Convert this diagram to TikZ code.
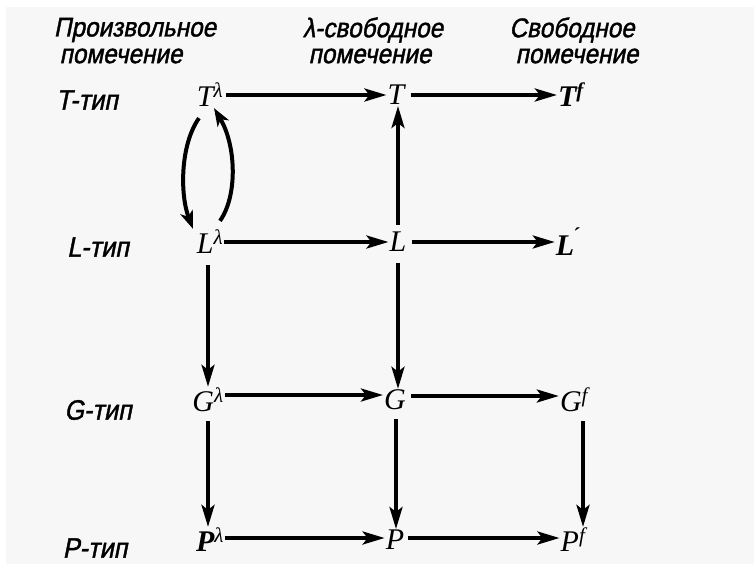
\documentclass[tikz,border=0pt]{standalone}
\usepackage{fontspec}
\setmainfont{Liberation Serif}
\newfontfamily\hdr[FakeStretch=0.9,FakeSlant=0.2,FakeBold=1.4]{Liberation Sans}
\usetikzlibrary{arrows.meta}
\begin{document}
\begin{tikzpicture}[x=1pt,y=-1pt,
  hd/.style={font=\hdr\fontsize{27}{27}\selectfont, inner sep=0pt, anchor=center},
  rl/.style={font=\hdr\fontsize{28}{28}\selectfont, inner sep=0pt, anchor=center},
  ob/.style={font=\itshape\fontsize{30}{30}\selectfont, inner sep=1pt, anchor=center},
  ar/.style={line width=3.6pt, -{Stealth[length=22pt,width=13pt,inset=5pt]}}]
\fill[white] (0,0) rectangle (754,564);
\fill[black!3] (6,7) rectangle (754,564);
% headers
\node[hd] (h1a) at (135,30) {Произвольное};
\node[hd] (h1b) at (121,56) {помечение};
\node[hd] (h2a) at (373,30) {λ-свободное};
\node[hd] (h2b) at (370,56) {помечение};
\node[hd] (h3a) at (572,30) {Свободное};
\node[hd] (h3b) at (577,56) {помечение};
% row labels
\node[rl] (r1) at (87,100) {T-тип};
\node[rl] (r2) at (98,247) {L-тип};
\node[rl] (r3) at (98,410) {G-тип};
\node[rl] (r4) at (95,548) {P-тип};
% objects
\node[ob] (Tl) at (210,95) {T\textsuperscript{λ}};
\node[ob] (T) at (396,95) {T};
\node[ob] (Tf) at (571,95) {\textbf{T}\textsuperscript{\textbf{f}}};
\node[ob] (Ll) at (210,242) {L\textsuperscript{λ}};
\node[ob] (L) at (398,242) {L};
\node[ob] (Lf) at (568,242) {\textbf{L}\textsuperscript{\textbf{\'{}}}};
\node[ob] (Gl) at (208,400) {G\textsuperscript{λ}};
\node[ob] (G) at (395,400) {G};
\node[ob] (Gf) at (574,400) {G\textsuperscript{f}};
\node[ob] (Pl) at (210,540) {\textbf{P}\textsuperscript{λ}};
\node[ob] (P) at (395,540) {P};
\node[ob] (Pf) at (573,540) {P\textsuperscript{f}};
% horizontal arrows
\draw[ar] (Tl.east |- 0,95) ++(2,0) -- (T.west |- 0,95);
\draw[ar] (T.east |- 0,95) ++(5,0) -- (Tf.west |- 0,95);
\draw[ar] (Ll.east |- 0,242) -- (L.west |- 0,242);
\draw[ar] (L.east |- 0,242) ++(4,0) -- (Lf.west |- 0,242);
\draw[ar] (Gl.east |- 0,395) -- (G.west |- 0,395);
\draw[ar] (G.east |- 0,396) ++(4,0) -- (Gf.west |- 0,396);
\draw[ar] (Pl.east |- 0,538) -- (P.west |- 0,538);
\draw[ar] (P.east |- 0,538) ++(3,0) -- (Pf.west |- 0,538);
% vertical arrows
\draw[ar] (L.north -| 398,0) ++(0,-6) -- (T.south -| 398,0);
\draw[ar] (L.south -| 398,0) ++(0,10) -- (G.north -| 398,0);
\draw[ar] (Ll.south -| 208,0) ++(0,10) -- (Gl.north -| 208,0);
\draw[ar] (Gl.south -| 208,0) ++(0,8) -- (Pl.north -| 208,0);
\draw[ar] (G.south -| 396,0) ++(0,8) -- (P.north -| 396,0);
\draw[ar] (Gf.south -| 583,0) ++(0,8) -- (Pf.north -| 583,0);
% loop arrows
\draw[line width=4pt, -{Stealth[length=18pt,width=13pt,inset=5pt]}] (Tl.south -| 199,0) ++(0,10) .. controls (180,145) and (180,195) .. (Ll.north -| 193,0);
\draw[line width=4pt, -{Stealth[length=18pt,width=13pt,inset=5pt]}] (Ll.north -| 220,0) ++(0,-8) .. controls (238,195) and (236,145) .. (Tl.south -| 214,0);
\end{tikzpicture}
\end{document}
